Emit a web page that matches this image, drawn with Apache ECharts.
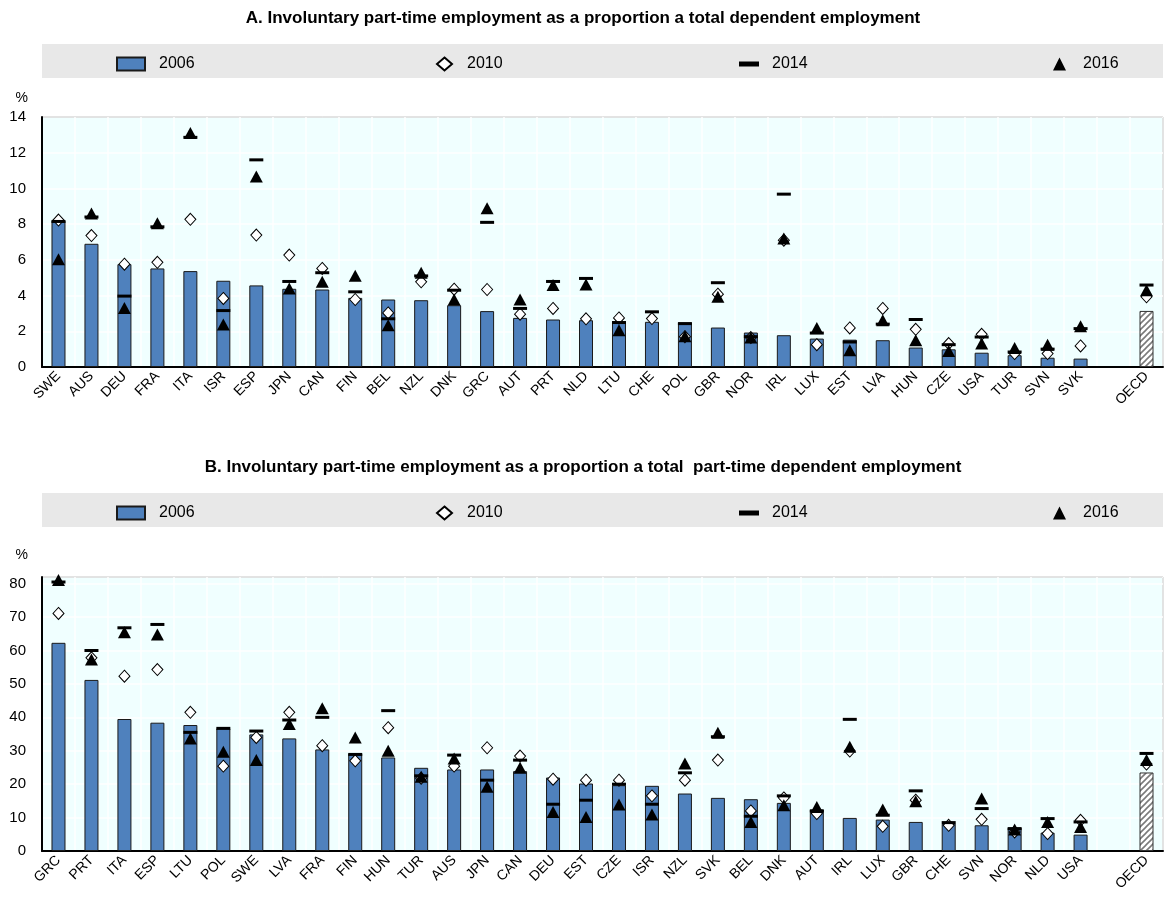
<!DOCTYPE html>
<html><head><meta charset="utf-8">
<script src="https://cdn.jsdelivr.net/npm/echarts@6/dist/echarts.min.js"></script>
<style>html,body{margin:0;padding:0;background:#fff}#a,#b{position:absolute;left:0;width:1166px;height:449px}#a{top:0}#b{top:449px}</style>
</head><body><div id="a"></div><div id="b"></div>
<script>
// Panel A data
const categoriesA = ['SWE','AUS','DEU','FRA','ITA','ISR','ESP','JPN','CAN','FIN','BEL','NZL','DNK','GRC','AUT','PRT','NLD','LTU','CHE','POL','GBR','NOR','IRL','LUX','EST','LVA','HUN','CZE','USA','TUR','SVN','SVK','','OECD'];
const a2006 = [8.2,6.9,5.76,5.52,5.37,4.83,4.57,4.38,4.34,3.87,3.78,3.74,3.46,3.13,2.75,2.66,2.62,2.56,2.53,2.49,2.21,1.93,1.78,1.59,1.53,1.50,1.09,0.99,0.80,0.66,0.52,0.47,null,3.14];
const a2010 = [8.23,7.36,5.76,5.86,8.27,3.84,7.39,6.27,5.52,3.78,3.03,4.77,4.36,4.34,2.96,3.28,2.70,2.75,2.71,1.70,4.08,1.65,7.10,1.25,2.19,3.28,2.11,1.31,1.83,0.75,0.75,1.18,null,3.93];
const a2014 = [8.15,8.40,3.97,7.85,12.86,3.16,11.6,4.79,5.28,4.21,2.70,5.10,4.30,8.10,3.28,4.79,4.96,2.49,3.09,2.43,4.72,1.70,9.68,1.90,1.40,2.40,2.66,1.25,1.68,0.84,1.00,2.15,null,4.59];
const a2016 = [6.03,8.60,3.31,8.05,13.1,2.38,10.67,4.40,4.77,5.11,2.34,5.28,3.78,8.89,3.78,4.59,4.62,2.06,null,1.72,3.93,1.65,7.20,2.19,0.94,2.62,1.50,0.90,1.31,1.07,1.25,2.28,null,4.30];
const ticksA = {min:0, max:14, interval:2};

// Panel B data
const categoriesB = ['GRC','PRT','ITA','ESP','LTU','POL','SWE','LVA','FRA','FIN','HUN','TUR','AUS','JPN','CAN','DEU','EST','CZE','ISR','NZL','SVK','BEL','DNK','AUT','IRL','LUX','GBR','CHE','SVN','NOR','NLD','USA','','OECD'];
const b2006 = [62.3,51.2,39.5,38.4,37.7,36.7,34.9,33.7,30.4,29.2,28.0,24.9,24.4,24.4,23.9,22.0,20.2,19.7,19.5,17.2,15.9,15.5,14.4,12.4,9.9,9.4,8.7,8.2,7.7,7.0,5.5,4.9,null,23.5];
const b2010 = [71.1,57.8,52.3,54.3,41.5,25.4,34.0,41.5,31.5,27.0,36.9,21.8,25.4,30.9,28.4,21.5,21.2,21.2,16.5,21.2,27.2,12.0,15.9,11.2,29.9,7.4,15.2,7.7,9.5,5.7,5.2,9.2,null,26.0];
const b2014 = [80.5,60.0,66.8,67.8,35.5,36.7,35.9,39.2,40.0,28.9,42.0,22.5,28.7,21.2,27.2,14.0,15.2,20.0,14.0,23.4,34.2,10.4,16.5,12.0,39.4,10.7,18.0,8.5,12.7,6.7,9.7,8.7,null,29.2];
const b2016 = [81.1,57.3,65.5,64.8,33.7,29.7,27.2,38.0,42.7,34.0,30.0,22.2,27.7,19.2,24.9,11.7,10.2,13.9,10.9,26.2,35.4,8.7,13.7,13.2,31.2,12.4,14.9,null,15.7,6.4,8.7,7.2,null,27.2];
const ticksB = {min:0, max:82, interval:10};

const titleA = 'A. Involuntary part-time employment as a proportion a total dependent employment';
const titleB = 'B. Involuntary part-time employment as a proportion a total  part-time dependent employment';
const seriesNames = ['2006','2010','2014','2016'];

const FONT = '"Liberation Sans", Arial, sans-serif';

function hatchCanvas(){
  const c = document.createElement('canvas'); c.width = 6; c.height = 6;
  const g = c.getContext('2d');
  g.fillStyle = '#fff'; g.fillRect(0,0,6,6);
  g.strokeStyle = '#7a7a7a'; g.lineWidth = 1.6;
  g.beginPath();
  g.moveTo(0,6); g.lineTo(6,0);
  g.moveTo(-1,1); g.lineTo(1,-1);
  g.moveTo(5,7); g.lineTo(7,5);
  g.stroke();
  return c;
}
const hatch = hatchCanvas();

function build(p){
  const barData = p.v2006.map((v,i)=> p.cats[i]==='OECD'
     ? {value:v, itemStyle:{color:{image:hatch, repeat:'repeat'}, borderColor:'#333'}} : v);
  const lt = {fontSize:16, color:'#000', fontFamily:FONT, lineHeight:18};
  const lg = {top:p.bandTop+11, padding:0, selectedMode:false};
  return {
    animation:false,
    textStyle:{fontFamily:FONT},
    title:{text:p.title, left:'center', top:p.titleTop, padding:[0,0,0,38],
      textStyle:{fontSize:17, fontWeight:'bold', color:'#000', fontFamily:FONT, lineHeight:20}},
    graphic:[{type:'rect', left:42, top:p.bandTop, shape:{width:1121, height:34}, style:{fill:'#E8E8E8'}, silent:true, z:0}],
    legend:[
      Object.assign({data:[{name:seriesNames[0], icon:'rect'}], left:116, itemWidth:28, itemHeight:13, textStyle:Object.assign({padding:[0,0,0,9]}, lt)}, lg),
      Object.assign({data:[{name:seriesNames[1], icon:'diamond'}], left:436, itemWidth:15, itemHeight:13, textStyle:Object.assign({padding:[0,0,0,10]}, lt)}, lg),
      Object.assign({data:[{name:seriesNames[2], icon:'rect'}], left:739, itemWidth:20, itemHeight:5, textStyle:Object.assign({padding:[0,0,0,8]}, lt)}, lg),
      Object.assign({data:[{name:seriesNames[3], icon:'triangle'}], left:1053, itemWidth:13, itemHeight:13, textStyle:Object.assign({padding:[0,0,0,12]}, lt)}, lg)
    ],
    grid:{left:42, right:3, top:p.top, height:p.height, show:true, backgroundColor:'#F0FFFF', borderColor:'#222', borderWidth:1, containLabel:false},
    xAxis:{type:'category', data:p.cats,
      axisLine:{lineStyle:{color:'#000', width:2}},
      axisTick:{inside:true, length:5, interval:0, lineStyle:{color:'#000', width:1}},
      axisLabel:{rotate:45, fontSize:14, color:'#000', interval:0, margin:7, fontFamily:FONT},
      splitLine:{show:true, interval:0, lineStyle:{color:'#ffffff', width:1.5}}},
    yAxis:{type:'value', min:p.ticks.min, max:p.ticks.max, interval:p.ticks.interval,
      name:'%', nameLocation:'end', nameGap:p.nameGap,
      nameTextStyle:{fontSize:14, color:'#000', align:'right', padding:[0,14,0,0], fontFamily:FONT},
      axisLine:{show:true, lineStyle:{color:'#000', width:2}},
      axisTick:{show:false},
      axisLabel:{fontSize:15, color:'#000', margin:16, showMaxLabel:p.showMax, fontFamily:FONT},
      splitLine:{show:true, lineStyle:{color:'#ffffff', width:1.5}}},
    series:[
      {name:seriesNames[0], type:'bar', data:barData, barWidth:14,
        itemStyle:{color:'#4F81BD', borderColor:'#1a1a1a', borderWidth:1}},
      {name:seriesNames[1], type:'scatter', data:p.v2010, symbol:'diamond', symbolSize:[11,12],
        itemStyle:{color:'#ffffff', borderColor:'#000', borderWidth:1, opacity:1}},
      {name:seriesNames[2], type:'scatter', data:p.v2014, symbol:'rect', symbolSize:[14,3],
        itemStyle:{color:'#000', opacity:1}},
      {name:seriesNames[3], type:'scatter', data:p.v2016, symbol:'triangle', symbolSize:[13,12],
        itemStyle:{color:'#000', opacity:1}}
    ]
  };
}

const chartA = echarts.init(document.getElementById('a'), null, {renderer:'canvas'});
chartA.setOption(build({cats:categoriesA, v2006:a2006, v2010:a2010, v2014:a2014, v2016:a2016,
  ticks:ticksA, title:titleA, titleTop:8, bandTop:44, top:117, height:250, nameGap:12, showMax:true}));

const chartB = echarts.init(document.getElementById('b'), null, {renderer:'canvas'});
chartB.setOption(build({cats:categoriesB, v2006:b2006, v2010:b2010, v2014:b2014, v2016:b2016,
  ticks:ticksB, title:titleB, titleTop:8, bandTop:44, top:128, height:274, nameGap:15, showMax:false}));
</script>
</body></html>
